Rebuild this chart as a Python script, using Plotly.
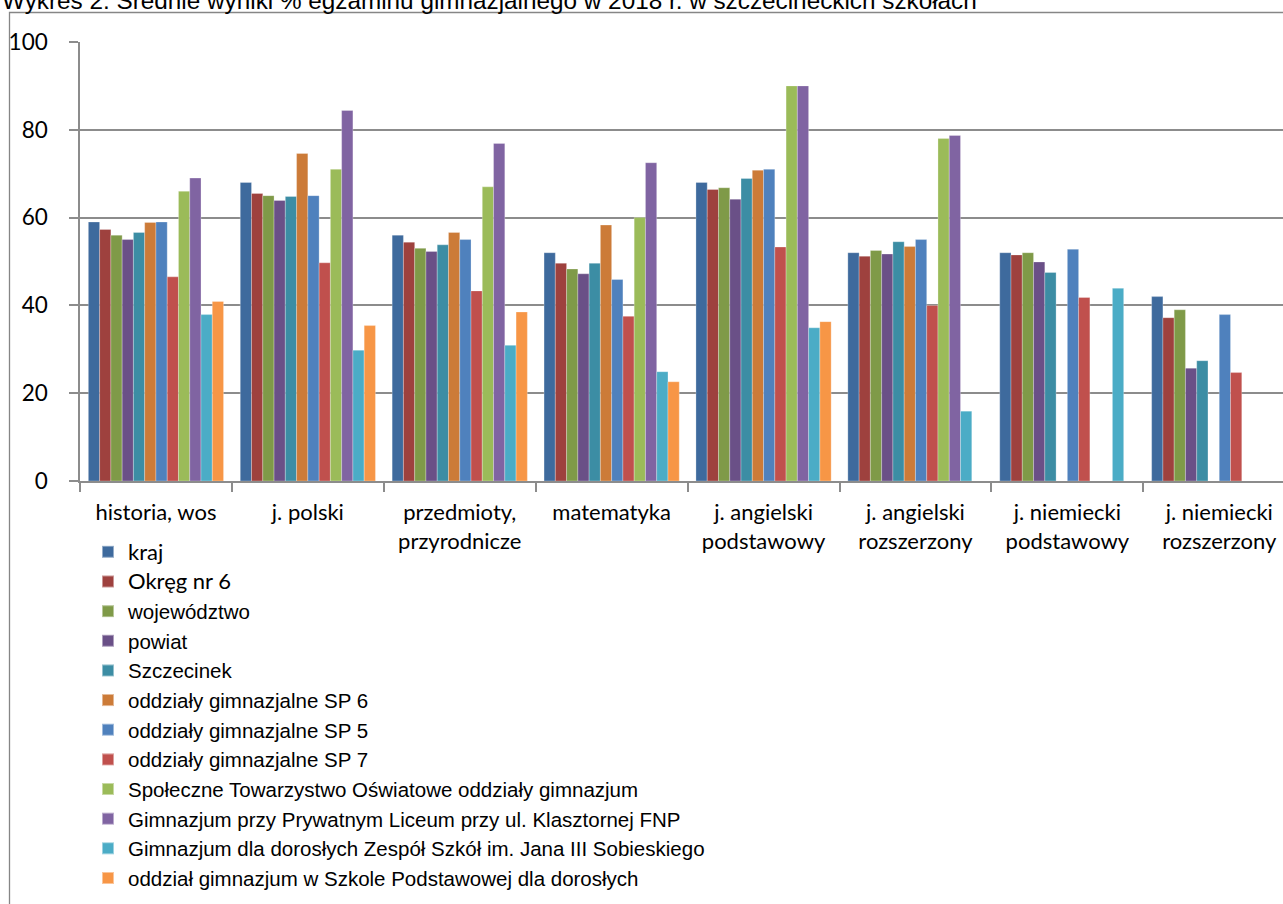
import plotly.graph_objects as go

categories = ["historia, wos", "j. polski", "przedmioty,<br>przyrodnicze", "matematyka",
              "j. angielski<br>podstawowy", "j. angielski<br>rozszerzony",
              "j. niemiecki<br>podstawowy", "j. niemiecki<br>rozszerzony"]

series_names = ["kraj", "Okręg nr 6", "województwo", "powiat", "Szczecinek",
                "oddziały gimnazjalne SP 6", "oddziały gimnazjalne SP 5",
                "oddziały gimnazjalne SP 7",
                "Społeczne Towarzystwo Oświatowe oddziały gimnazjum",
                "Gimnazjum przy Prywatnym Liceum przy ul. Klasztornej FNP",
                "Gimnazjum dla dorosłych Zespół Szkół im. Jana III Sobieskiego",
                "oddział gimnazjum w Szkole Podstawowej dla dorosłych"]

kraj = [59, 68, 56, 52, 68, 52, 52, 42]
okreg = [57.3, 65.5, 54.4, 49.6, 66.4, 51.2, 51.5, 37.2]
wojewodztwo = [56, 65, 53, 48.3, 66.8, 52.5, 52, 39]
powiat = [55, 63.9, 52.3, 47.2, 64.2, 51.7, 49.9, 25.7]
szczecinek = [56.6, 64.8, 53.8, 49.6, 68.9, 54.5, 47.5, 27.4]
sp6 = [58.9, 74.6, 56.6, 58.3, 70.8, 53.4, None, None]
sp5 = [59, 65, 55, 45.9, 71, 55, 52.8, 37.9]
sp7 = [46.5, 49.7, 43.3, 37.5, 53.3, 40, 41.8, 24.7]
sto = [66, 71, 67, 60, 90, 78, None, None]
fnp = [69, 84.4, 76.9, 72.5, 90, 78.7, None, None]
dorosli = [37.9, 29.8, 30.9, 24.9, 34.9, 15.9, 43.9, None]
sp_dorosli = [40.9, 35.4, 38.5, 22.6, 36.3, None, None, None]

series_values = [kraj, okreg, wojewodztwo, powiat, szczecinek, sp6, sp5, sp7,
                 sto, fnp, dorosli, sp_dorosli]

colors = ["#3E6A9D", "#9E413E", "#7F9A48", "#6A5087", "#3C8DA4", "#CC7B38",
          "#4F81BD", "#C0504D", "#9BBB59", "#8064A2", "#4BACC6", "#F79646"]

y_ticks = [0, 20, 40, 60, 80, 100]

title_text = "Wykres 2. Średnie wyniki % egzaminu gimnazjalnego w 2018 r. w szczecineckich szkołach"

W, H = 1283, 904
L, T, B = 80, 42, 481  # plot area pixel edges
PW = W - L
PH = B - T


def px_x(p):
    return (p - L) / PW


def px_y(p):
    return (B - p) / PH


fig = go.Figure()
for i, (name, vals, col) in enumerate(zip(series_names, series_values, colors)):
    label = name
    if i < 2:
        label = "<span style='font-family:Lato;font-size:22px'>" + name + "</span>"
    fig.add_trace(go.Bar(
        x=categories, y=vals, name=label,
        marker=dict(color=col, line=dict(color="rgba(255,255,255,0.45)", width=0.6)),
    ))

cat_w = 151.9
fig.update_layout(
    width=W, height=H,
    margin=dict(l=L, r=0, t=T, b=H - B, autoexpand=False),
    paper_bgcolor="white", plot_bgcolor="white",
    barmode="group", bargap=0.11, bargroupgap=0,
    showlegend=True,
    legend=dict(
        xref="container", yref="container",
        x=88 / W, y=1 - 532 / H, xanchor="left", yanchor="top",
        font=dict(family="Liberation Sans Narrow, Arial Narrow, Liberation Sans, Arial",
                  size=20.5, color="black"),
        traceorder="normal", tracegroupgap=0, bgcolor="rgba(0,0,0,0)",
        itemsizing="constant",
    ),
    xaxis=dict(
        type="category",
        range=[-0.5, -0.5 + PW / cat_w],
        showline=True, linecolor="#8c8c8c", linewidth=1.5,
        ticks="outside", tickson="boundaries", ticklen=9, tickcolor="#8c8c8c", tickwidth=1.5,
        tickfont=dict(family="Lato, Open Sans", size=22, color="black"),
        showgrid=False, ticklabelstandoff=11,
    ),
    yaxis=dict(
        range=[0, 100], tickvals=y_ticks,
        showline=True, linecolor="#8c8c8c", linewidth=1.5,
        ticks="outside", ticklen=9, tickcolor="#8c8c8c", tickwidth=1.5,
        showgrid=True, gridcolor="#8c8c8c", gridwidth=1.5,
        zeroline=False,
        tickfont=dict(family="Lato, Open Sans", size=22.5, color="black"),
        ticklabelstandoff=17,
    ),
    annotations=[dict(
        text=title_text, xref="paper", yref="paper",
        x=px_x(0), y=px_y(1), xanchor="left", yanchor="middle",
        showarrow=False,
        font=dict(family="Liberation Sans, Arial", size=24.3, color="black"),
    )],
    shapes=[dict(
        type="rect", xref="paper", yref="paper", layer="below",
        x0=px_x(9.5), x1=px_x(W + 10), y0=px_y(H + 10), y1=px_y(12.5),
        line=dict(color="#868686", width=1.3), fillcolor="rgba(0,0,0,0)",
    )],
)

fig.write_html("out.html", config={"displayModeBar": False},
               post_script="document.body.style.margin='0';")
